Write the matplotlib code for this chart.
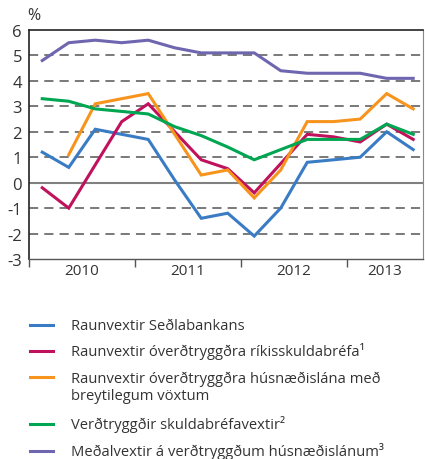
import matplotlib
matplotlib.use('Agg')
import matplotlib.pyplot as plt
from matplotlib.lines import Line2D

plt.rcParams['font.family'] = ['Open Sans', 'DejaVu Sans']

# quarterly data, 2010 Q1 - 2013 Q3
quarters = list(range(15))
years = ['2010', '2011', '2012', '2013']

sedlabanki = [1.2, 0.6, 2.1, 1.9, 1.7, 0.1, -1.4, -1.2, -2.1, -1.0, 0.8, 0.9, 1.0, 2.0, 1.3]
rikisskuldabref = [-0.2, -1.0, 0.7, 2.4, 3.1, 2.0, 0.9, 0.55, -0.4, 0.75, 1.9, 1.8, 1.6, 2.3, 1.7]
husnaedislan = [None, 1.1, 3.1, 3.3, 3.5, 1.9, 0.3, 0.5, -0.6, 0.5, 2.4, 2.4, 2.5, 3.5, 2.9]
skuldabref_vt = [3.3, 3.2, 2.9, 2.8, 2.7, 2.2, 1.85, 1.4, 0.9, 1.3, 1.7, 1.7, 1.7, 2.3, 1.9]
medalvextir = [4.8, 5.5, 5.6, 5.5, 5.6, 5.3, 5.1, 5.1, 5.1, 4.4, 4.3, 4.3, 4.3, 4.1, 4.1]

labels = ['Raunvextir Seðlabankans',
          'Raunvextir óverðtryggðra ríkisskuldabréfa¹',
          'Raunvextir óverðtryggðra húsnæðislána með\nbreytilegum vöxtum',
          'Verðtryggðir skuldabréfavextir²',
          'Meðalvextir á verðtryggðum húsnæðislánum³']
colors = ['#3a7cc4', '#c0125c', '#f7941d', '#00a651', '#6f66b0']
series = [sedlabanki, rikisskuldabref, husnaedislan, skuldabref_vt, medalvextir]

txt = '#333333'
fig = plt.figure(figsize=(4.25, 4.6), dpi=100)
ax = fig.add_axes([29/425, 1 - 260/460, 394/425, 229/460])

for v in range(-2, 7):
    if v == 0:
        ax.axhline(0, color='#808080', lw=1.5, zorder=1)
    elif v < 6:
        ax.axhline(v, color='#555555', lw=1.1, dashes=(6, 4), zorder=1)

for s, c in zip(series, colors):
    xs = [q for q, val in zip(quarters, s) if val is not None]
    ys = [val for val in s if val is not None]
    ax.plot(xs, ys, color=c, lw=2.2, solid_joinstyle='miter', zorder=3)

ax.set_xlim(-0.5, 14.37)
ax.set_ylim(-3, 6)
ax.set_yticks(range(-3, 7))
ax.set_yticklabels([str(v) for v in range(-3, 7)], fontsize=12, color=txt)
ax.tick_params(axis='y', length=0, pad=5)

ax.set_xticks([-0.5, 3.5, 7.5, 11.5])
ax.set_xticklabels([])
ax.set_xticks([1.5, 5.5, 9.5, 12.93], minor=True)
ax.set_xticklabels(years, minor=True, fontsize=11, color=txt)
ax.tick_params(axis='x', which='major', length=6, width=1, color='#555555', direction='out')
ax.tick_params(axis='x', which='minor', length=0, pad=3)

for side in ['left', 'top']:
    ax.spines[side].set_color('#222222')
    ax.spines[side].set_linewidth(1.2)
ax.spines['right'].set_color('#888888')
ax.spines['bottom'].set_color('#555555')
ax.spines['bottom'].set_linewidth(1.0)

fig.text(34/425, 1 - 16/460, '%', fontsize=11.5, color=txt, ha='center', va='center')

# legend
rows = [326, 352, 388, 425, 452]
line_rows = [326, 352, 378, 425, 452]
for lab, c, yy, ly in zip(labels, colors, rows, line_rows):
    yf = 1 - ly/460
    fig.add_artist(Line2D([30/425, 53/425], [yf, yf], color=c, lw=2.2, transform=fig.transFigure))
    fig.text(71/425, 1 - yy/460, lab, fontsize=10.6, color=txt, ha='left', va='center',
             linespacing=1.2, transform=fig.transFigure)

fig.savefig('out.png', dpi=100)
